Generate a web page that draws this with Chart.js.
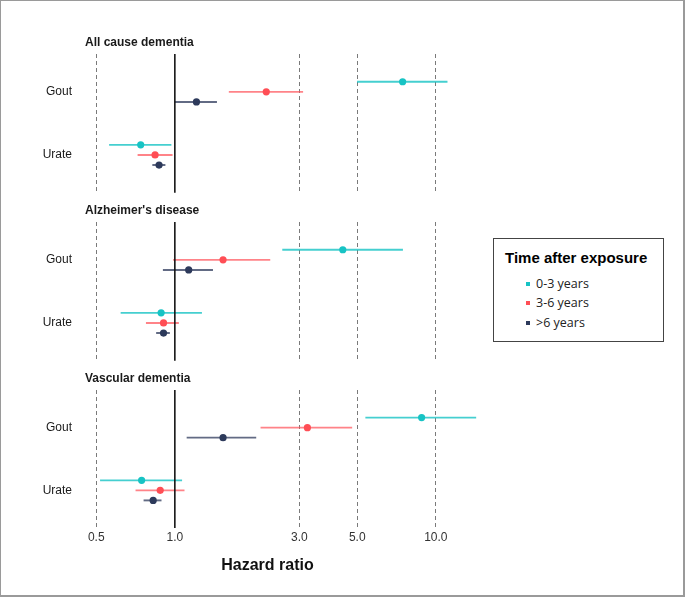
<!DOCTYPE html>
<html>
<head>
<meta charset="utf-8">
<script src="https://cdn.jsdelivr.net/npm/chart.js@4.4.0/dist/chart.umd.min.js"></script>
<style>
  body { margin: 0; background: #fff; position: relative; width: 685px; height: 597px; overflow: hidden; }
  #frame { position: absolute; left: 0; top: 0; width: 685px; height: 597px; box-sizing: border-box; border: 1px solid #9a9a9a; border-right-width: 2px; border-bottom-width: 2px; }
  canvas { position: absolute; left: 0; }
  #xtitle { position: absolute; left: 180px; width: 175px; top: 556px; text-align: center; font: bold 16px "Liberation Sans", Arial, sans-serif; color: #111; }
  #legend { position: absolute; left: 493px; top: 238px; width: 171px; height: 104px; box-sizing: border-box; border: 1px solid #444; background: #fff; }
  #legend .ttl { position: absolute; left: 11px; top: 10px; font: bold 15px "Liberation Sans", Arial, sans-serif; color: #000; white-space: nowrap; }
  #legend .item { position: absolute; left: 42px; font: 12.5px "Open Sans", sans-serif; color: #222; white-space: nowrap; }
  #legend .mk { position: absolute; left: -10px; top: 7px; width: 4px; height: 4px; }
</style>
</head>
<body>
<div id="frame"></div>
<canvas id="c1" width="500" height="178" style="top:31px"></canvas>
<canvas id="c2" width="500" height="178" style="top:199px"></canvas>
<canvas id="c3" width="500" height="200" style="top:367px"></canvas>
<div id="xtitle">Hazard ratio</div>
<div id="legend"><div class="ttl">Time after exposure</div></div>

<script>
const panelNames = ['All cause dementia', "Alzheimer's disease", 'Vascular dementia'];
const outcomes = ['Gout', 'Urate'];
const groups = ['0-3 years', '3-6 years', '>6 years'];
const xTicks = [0.5, 1, 3, 5, 10];

// hazard ratios: rows = outcome (Gout, Urate), columns = 0-3, 3-6, >6 years
const allCauseHR = [[7.46, 2.24, 1.21], [0.74, 0.84, 0.87]];
const allCauseLo = [[4.99, 1.61, 1.0], [0.56, 0.72, 0.82]];
const allCauseHi = [[11.08, 3.10, 1.45], [0.97, 0.98, 0.92]];

const alzHR = [[4.40, 1.53, 1.13], [0.886, 0.905, 0.905]];
const alzLo = [[2.58, 0.985, 0.90], [0.62, 0.775, 0.848]];
const alzHi = [[7.48, 2.32, 1.40], [1.27, 1.036, 0.957]];

const vascHR = [[8.82, 3.22, 1.53], [0.746, 0.879, 0.826]];
const vascLo = [[5.37, 2.13, 1.11], [0.517, 0.707, 0.759]];
const vascHi = [[14.27, 4.78, 2.05], [1.066, 1.089, 0.889]];

// styles
const groupColors = ['#17C3C4', '#FF4E55', '#2D3A5B'];
const ciColors = ['rgba(23,195,196,0.8)', 'rgba(255,78,85,0.7)', 'rgba(45,58,91,0.75)'];
const dodge = [-0.16, 0, 0.16];

// Reference line at HR = 1 and panel title
const panelDeco = {
    id: 'panelDeco',
    afterDatasetsDraw(chart, args, opts) {
        const { ctx, chartArea, scales } = chart;
        const x1 = scales.x.getPixelForValue(1);
        ctx.save();
        ctx.strokeStyle = '#151515';
        ctx.lineWidth = 1.6;
        ctx.beginPath();
        ctx.moveTo(x1, chartArea.top);
        ctx.lineTo(x1, chartArea.bottom);
        ctx.stroke();
        ctx.fillStyle = '#1a1a1a';
        ctx.font = 'bold 12px "Liberation Sans", Arial, sans-serif';
        ctx.textBaseline = 'middle';
        ctx.fillText(opts.title, chartArea.left + 4, chartArea.top - 11);
        ctx.restore();
    }
};

function buildDatasets(hr, lo, hi) {
    const sets = [];
    groups.forEach((g, gi) => {
        sets.push({
            label: g,
            data: outcomes.map((o, oi) => ({ x: hr[oi][gi], y: oi + 1 + dodge[gi] })),
            backgroundColor: groupColors[gi],
            pointRadius: 3.6,
            pointHoverRadius: 3.6,
            borderWidth: 0,
            order: 0,
        });
    });
    groups.forEach((g, gi) => {
        outcomes.forEach((o, oi) => {
            const y = oi + 1 + dodge[gi];
            sets.push({
                type: 'line',
                data: [{ x: lo[oi][gi], y }, { x: hi[oi][gi], y }],
                borderColor: ciColors[gi],
                borderWidth: 1.9,
                pointRadius: 0,
                showLine: true,
                order: 1,
            });
        });
    });
    return sets;
}

function makePanel(id, title, hr, lo, hi, showTicks) {
    return new Chart(document.getElementById(id), {
        type: 'scatter',
        data: { datasets: buildDatasets(hr, lo, hi) },
        options: {
            responsive: false,
            animation: false,
            events: [],
            layout: { padding: { top: 23, bottom: 0, left: 0, right: 5 } },
            plugins: {
                legend: { display: false },
                tooltip: { enabled: false },
                panelDeco: { title },
            },
            scales: {
                x: {
                    type: 'logarithmic',
                    min: 0.437,
                    max: 16.85,
                    afterBuildTicks: (scale) => { scale.ticks = xTicks.map((v) => ({ value: v })); },
                    afterFit: (scale) => { scale.height = showTicks ? 39 : 9; },
                    grid: {
                        color: (c) => (c.tick && c.tick.value === 1 ? 'rgba(0,0,0,0)' : '#7a7a7a'),
                        lineWidth: 1,
                        drawTicks: false,
                    },
                    border: { display: false, dash: [4, 3] },
                    ticks: {
                        display: showTicks,
                        padding: 2,
                        color: '#333',
                        font: { family: '"Liberation Sans", Arial, sans-serif', size: 12 },
                        callback: (v) => Number(v).toFixed(1),
                        autoSkip: false,
                        maxRotation: 0,
                    },
                },
                y: {
                    type: 'linear',
                    min: 0.4,
                    max: 2.6,
                    reverse: true,
                    afterBuildTicks: (scale) => { scale.ticks = outcomes.map((o, i) => ({ value: i + 1 })); },
                    afterFit: (scale) => { scale.width = 81; },
                    grid: { display: false, drawTicks: false },
                    border: { display: false },
                    ticks: {
                        padding: 9,
                        color: '#1a1a1a',
                        font: { family: '"Liberation Sans", Arial, sans-serif', size: 12 },
                        callback: (v) => outcomes[Math.round(v) - 1],
                    },
                },
            },
        },
        plugins: [panelDeco],
    });
}

makePanel('c1', panelNames[0], allCauseHR, allCauseLo, allCauseHi, false);
makePanel('c2', panelNames[1], alzHR, alzLo, alzHi, false);
makePanel('c3', panelNames[2], vascHR, vascLo, vascHi, true);

// Legend
const legendEl = document.getElementById('legend');
const itemTops = [36, 55, 75];
groups.forEach((g, gi) => {
    const item = document.createElement('div');
    item.className = 'item';
    item.style.top = itemTops[gi] + 'px';
    item.textContent = g;
    const mk = document.createElement('span');
    mk.className = 'mk';
    mk.style.background = groupColors[gi];
    item.appendChild(mk);
    legendEl.appendChild(item);
});
</script>
</body>
</html>
